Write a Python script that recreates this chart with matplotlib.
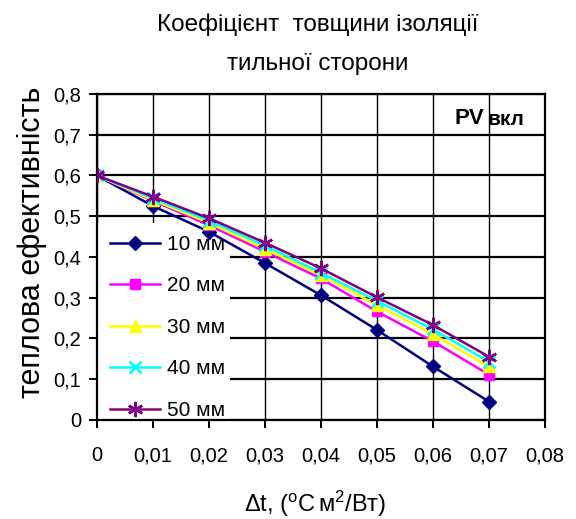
import matplotlib
matplotlib.use("Agg")
import matplotlib.pyplot as plt
from matplotlib.patches import Rectangle
from matplotlib.ticker import FuncFormatter, MultipleLocator

plt.rcParams['font.family'] = ['Liberation Sans', 'DejaVu Sans']

# ── Дані ─────────────────────────────────────────
dt = [0, 0.01, 0.02, 0.03, 0.04, 0.05, 0.06, 0.07]
eff_10 = [0.600, 0.525, 0.462, 0.385, 0.306, 0.221, 0.131, 0.045]
eff_20 = [0.600, 0.538, 0.478, 0.413, 0.347, 0.266, 0.193, 0.111]
eff_30 = [0.600, 0.540, 0.484, 0.420, 0.355, 0.282, 0.210, 0.131]
eff_40 = [0.600, 0.544, 0.489, 0.428, 0.361, 0.292, 0.222, 0.143]
eff_50 = [0.600, 0.548, 0.495, 0.435, 0.372, 0.301, 0.233, 0.155]
labels = ['10 мм', '20 мм', '30 мм', '40 мм', '50 мм']

series = [eff_10, eff_20, eff_30, eff_40, eff_50]
colors = ['#000080', '#ff00ff', '#ffff00', '#00ffff', '#800080']
markers = ['D', 's', '^', 'x', (6, 2, 0)]
msizes = [7, 7, 8, 8, 11]

fig = plt.figure(figsize=(5.76, 5.19), dpi=100)
ax = fig.add_axes([0.168, 0.191, 0.778, 0.628])

for y, c, m, ms, lab in zip(series, colors, markers, msizes, labels):
    ax.plot(dt, y, color=c, marker=m, markersize=ms, linewidth=1.8,
            markeredgewidth=1.8 if m in ('x', (6, 2, 0)) else 1.0,
            markeredgecolor=c, markerfacecolor=c, label=lab, zorder=3)

ax.set_xlim(0, 0.08)
ax.set_ylim(0, 0.8)
ax.xaxis.set_major_locator(MultipleLocator(0.01))
ax.yaxis.set_major_locator(MultipleLocator(0.1))
fmt = FuncFormatter(lambda v, p: '0' if abs(v) < 1e-9 else f'{v:.2f}'.rstrip('0').replace('.', ','))
ax.xaxis.set_major_formatter(fmt)
ax.yaxis.set_major_formatter(fmt)

ax.set_axisbelow(True)
ax.grid(axis='y', color='black', linewidth=1.6)
ax.grid(axis='x', color='black', linewidth=1.0)
for s in ax.spines.values():
    s.set_linewidth(1.6)
ax.tick_params(direction='out', length=6, width=1.4, labelsize=14.5, pad=5)
ax.tick_params(axis='x', pad=13)

# біле тло під легендою
ax.add_patch(Rectangle((0, 0), 0.297, 0.604, transform=ax.transAxes,
                       facecolor='white', edgecolor='none', zorder=1))

ax.legend(loc='center left', bbox_to_anchor=(0.029, 0.284), frameon=False,
          fontsize=15, handlelength=2.4, labelspacing=1.08, borderpad=0,
          borderaxespad=0, handletextpad=0.37)

pv = ax.text(0.799, 0.908, 'PV', transform=ax.transAxes, fontsize=16,
             fontweight='bold', va='baseline', ha='left')
ax.annotate('вкл', xy=(1, 0), xycoords=pv, xytext=(2, 0),
            textcoords='offset points', fontsize=15, fontweight='bold',
            va='bottom', ha='left')

fig.text(0.552, 0.953, 'Коефіцієнт  товщини ізоляції', ha='center',
         va='center', fontsize=17.5)
fig.text(0.552, 0.876, 'тильної сторони', ha='center', va='center',
         fontsize=17.5)

fig.text(0.0556, 0.534, 'теплова ефективність', rotation=90, ha='center',
         va='center', fontsize=22)
fig.text(0.547, 0.030, 'Δt, ($\\mathregular{^oC\\,м^2/Вт}$)', ha='center',
         va='center', fontsize=17)

fig.savefig('out.png', dpi=100)
